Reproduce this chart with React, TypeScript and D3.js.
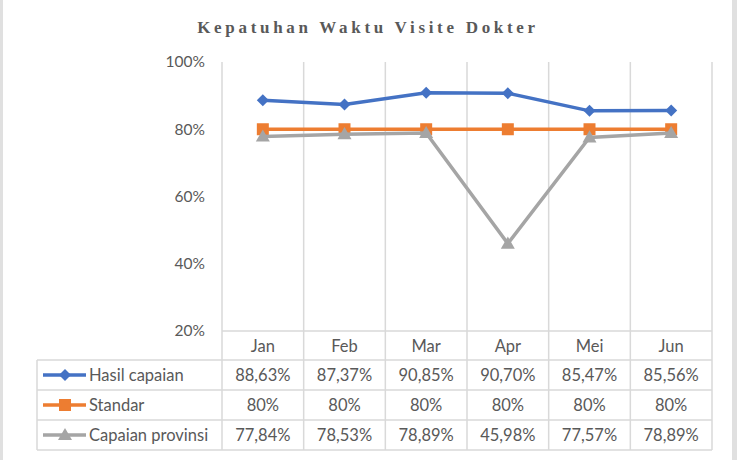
import React, { useEffect } from 'react';
import * as d3 from 'd3';

const categories = ['Jan', 'Feb', 'Mar', 'Apr', 'Mei', 'Jun'];
const hasilCapaian = [88.63, 87.37, 90.85, 90.7, 85.47, 85.56];
const standar = [80, 80, 80, 80, 80, 80];
const capaianProvinsi = [77.84, 78.53, 78.89, 45.98, 77.57, 78.89];
const yTicks = [20, 40, 60, 80, 100];

const series = [
    { name: 'Hasil capaian', values: hasilCapaian, color: '#4472C4', marker: 'diamond' },
    { name: 'Standar', values: standar, color: '#ED7D31', marker: 'square' },
    { name: 'Capaian provinsi', values: capaianProvinsi, color: '#A5A5A5', marker: 'triangle' },
];

const width = 737;
const height = 460;
const plotTop = 62;
const plotBottom = 331;
const tableLeft = 37;
const rowH = 30;
const headerH = 29;
const gridColor = '#d9d9d9';
const textColor = '#595959';
const font = 'Lato, "Open Sans", sans-serif';

const fmt = (v: number) => (Number.isInteger(v) ? `${v}%` : `${v.toFixed(2).replace('.', ',')}%`);

const Marker: React.FC<{ type: string; x: number; y: number; color: string }> = ({ type, x, y, color }) => {
    if (type === 'diamond') {
        const d = d3.symbol(d3.symbolSquare, 72)();
        return <path d={d || ''} transform={`translate(${x},${y}) rotate(45)`} fill={color} />;
    }
    if (type === 'square') {
        const d = d3.symbol(d3.symbolSquare, 144)();
        return <path d={d || ''} transform={`translate(${x},${y})`} fill={color} />;
    }
    const d = d3.symbol(d3.symbolTriangle, 85)();
    return <path d={d || ''} transform={`translate(${x},${y + 1})`} fill={color} />;
};

const App: React.FC = () => {
    useEffect(() => {
        document.body.style.margin = '0';
    }, []);

    const x = d3.scaleBand<string>().domain(categories).range([222, 712]).paddingInner(0).paddingOuter(0);
    const y = d3.scaleLinear().domain([20, 100]).range([plotBottom, plotTop]);
    const cx = (c: string) => (x(c) ?? 0) + x.bandwidth() / 2;
    const line = d3.line<number>().x((_, i) => cx(categories[i])).y(v => y(v));

    const tableBottom = plotBottom + headerH + rowH * series.length;
    const colEdges = [...categories.map(c => x(c) ?? 0), 712];

    return (
        <svg width={width} height={height} style={{ display: 'block' }}>
            <rect x={0} y={0} width={width} height={height} fill="#fff" />
            <rect x={0} y={0} width={3} height={height} fill="#e0e0e0" />
            <rect x={732} y={0} width={5} height={height} fill="#e0e0e0" />

            <text
                x={368}
                y={33}
                textAnchor="middle"
                fontFamily='"Liberation Serif", "Times New Roman", serif'
                fontWeight="bold"
                fontSize={17}
                letterSpacing={3.7}
                fill={textColor}
            >
                Kepatuhan Waktu Visite Dokter
            </text>

            {/* vertical gridlines through plot and table */}
            {colEdges.map((e, i) => (
                <line
                    key={`v${i}`}
                    x1={e}
                    x2={e}
                    y1={plotTop}
                    y2={tableBottom}
                    stroke={gridColor}
                    strokeWidth={1.5}
                />
            ))}
            {/* table horizontal lines */}
            <line x1={222} x2={712} y1={plotBottom} y2={plotBottom} stroke={gridColor} strokeWidth={1.5} />
            {series.map((_, i) => (
                <line
                    key={`h${i}`}
                    x1={tableLeft}
                    x2={712}
                    y1={plotBottom + headerH + rowH * i}
                    y2={plotBottom + headerH + rowH * i}
                    stroke={gridColor}
                    strokeWidth={1.5}
                />
            ))}
            <line x1={tableLeft} x2={712} y1={tableBottom} y2={tableBottom} stroke={gridColor} strokeWidth={1.5} />
            <line x1={tableLeft} x2={tableLeft} y1={plotBottom + headerH} y2={tableBottom} stroke={gridColor} strokeWidth={1.5} />

            {/* y axis labels */}
            {yTicks.map(t => (
                <text
                    key={t}
                    x={205}
                    y={y(t)}
                    dy="0.35em"
                    textAnchor="end"
                    fontFamily={font}
                    fontSize={15.5}
                    fill={textColor}
                >
                    {t}%
                </text>
            ))}

            {/* lines and markers */}
            {series.map(s => (
                <g key={s.name}>
                    <path d={line(s.values) || ''} fill="none" stroke={s.color} strokeWidth={3.5} />
                    {s.values.map((v, i) => (
                        <Marker key={i} type={s.marker} x={cx(categories[i])} y={y(v)} color={s.color} />
                    ))}
                </g>
            ))}

            {/* table header */}
            {categories.map(c => (
                <text
                    key={c}
                    x={cx(c)}
                    y={plotBottom + headerH / 2 + 1}
                    dy="0.35em"
                    textAnchor="middle"
                    fontFamily={font}
                    fontSize={16.5}
                    fill={textColor}
                >
                    {c}
                </text>
            ))}

            {/* table rows */}
            {series.map((s, r) => {
                const rowY = plotBottom + headerH + rowH * r + rowH / 2;
                return (
                    <g key={`row${s.name}`}>
                        <line x1={43} x2={86} y1={rowY} y2={rowY} stroke={s.color} strokeWidth={3.5} />
                        <Marker type={s.marker} x={65} y={rowY} color={s.color} />
                        <text x={89} y={rowY} dy="0.35em" fontFamily={font} fontSize={16.5} fill={textColor}>
                            {s.name}
                        </text>
                        {s.values.map((v, i) => (
                            <text
                                key={i}
                                x={cx(categories[i])}
                                y={rowY}
                                dy="0.35em"
                                textAnchor="middle"
                                fontFamily={font}
                                fontSize={16.5}
                                fill={textColor}
                            >
                                {fmt(v)}
                            </text>
                        ))}
                    </g>
                );
            })}
        </svg>
    );
};

export default App;
